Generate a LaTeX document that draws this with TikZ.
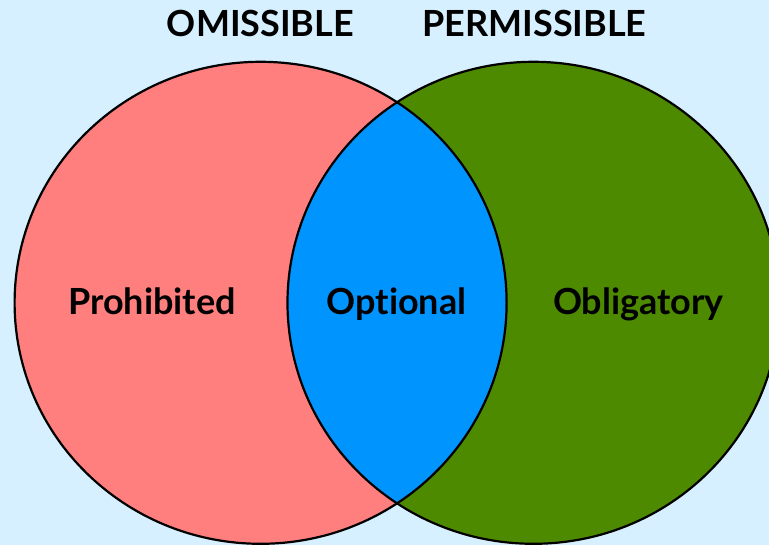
\documentclass[tikz,border=0pt]{standalone}
\usepackage{xcolor}
\usepackage{fontspec}
\setmainfont{Lato}[Ligatures=NoCommon]
\usepackage{tikz}
\usetikzlibrary{positioning, shapes.geometric}

\definecolor{fondo}{RGB}{214,240,255}
\definecolor{salmon}{RGB}{255,127,127}
\definecolor{verde}{RGB}{78,138,0}
\definecolor{azul}{RGB}{0,148,255}

\begin{document}
\begin{tikzpicture}[x=1pt, y=-1pt,
  conjunto/.style={ellipse, inner sep=0pt, minimum width=492pt, minimum height=482pt},
  etiqueta/.style={anchor=base, font=\fontsize{36}{42}\selectfont\bfseries}]
% Fondo
\fill[fondo] (0,0) rectangle (769,545);
\useasboundingbox (0,0) rectangle (769,545);
% Conjuntos
\node[conjunto, fill=salmon] (izq) at (260.6,302.8) {};
\node[conjunto, fill=verde] (der) at (533.5,302.8) {};
\begin{scope}
  \clip (izq.center) ellipse (246 and 241);
  \fill[azul] (der.center) ellipse (246 and 241);
\end{scope}
\draw[line width=2.2pt] (izq.center) ellipse (246 and 241);
\draw[line width=2.2pt] (der.center) ellipse (246 and 241);
% Etiquetas
\node[etiqueta] (omis) at (260.5,37) {OMISSIBLE};
\node[etiqueta] (perm) at (534.5,37) {PERMISSIBLE};
\node[etiqueta] (proh) at (152,315) {Prohibited};
\node[etiqueta] (opc) at (396.5,315) {Optional};
\node[etiqueta] (oblig) at (638.5,315) {Obligatory};
\end{tikzpicture}
\end{document}
